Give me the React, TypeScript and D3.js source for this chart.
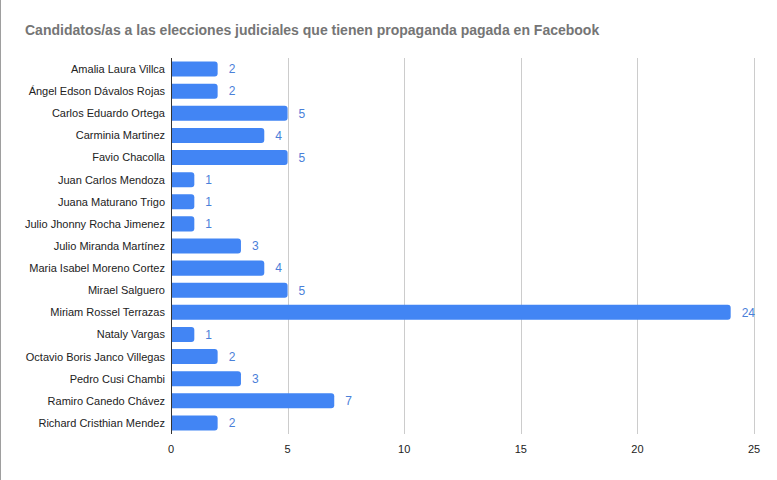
import React from 'react';
import * as d3 from 'd3';

const candidates = [
  'Amalia Laura Villca',
  'Ángel Edson Dávalos Rojas',
  'Carlos Eduardo Ortega',
  'Carminia Martinez',
  'Favio Chacolla',
  'Juan Carlos Mendoza',
  'Juana Maturano Trigo',
  'Julio Jhonny Rocha Jimenez',
  'Julio Miranda Martínez',
  'Maria Isabel Moreno Cortez',
  'Mirael Salguero',
  'Miriam Rossel Terrazas',
  'Nataly Vargas',
  'Octavio Boris Janco Villegas',
  'Pedro Cusi Chambi',
  'Ramiro Canedo Chávez',
  'Richard Cristhian Mendez',
];

const ads = [2, 2, 5, 4, 5, 1, 1, 1, 3, 4, 5, 24, 1, 2, 3, 7, 2];

const xTicks = [0, 5, 10, 15, 20, 25];

const title =
  'Candidatos/as a las elecciones judiciales que tienen propaganda pagada en Facebook';

const W = 777;
const H = 480;
const margin = { top: 58, right: 23, bottom: 46, left: 171 };
const FONT = '"Liberation Sans", Arial, sans-serif';

// right-side rounded bar
function barPath(x0: number, y0: number, w: number, h: number, r: number) {
  const rr = Math.min(r, w / 2, h / 2);
  return `M${x0},${y0}H${x0 + w - rr}Q${x0 + w},${y0} ${x0 + w},${y0 + rr}V${y0 + h - rr}Q${x0 + w},${y0 + h} ${x0 + w - rr},${y0 + h}H${x0}Z`;
}

export default function App() {
  const x = d3.scaleLinear().domain([0, 25]).range([margin.left, W - margin.right]);
  const y = d3
    .scaleBand()
    .domain(candidates)
    .range([margin.top, H - margin.bottom])
    .paddingInner(0.32)
    .paddingOuter(0.16);

  return (
    <svg
      width={W}
      height={H}
      style={{ position: 'absolute', left: 0, top: 0, background: '#fff' }}
      fontFamily={FONT}
    >
      <style>{'body{margin:0}'}</style>
      <rect x={0} y={0} width={W} height={H} fill="#fff" />
      <line x1={0.5} x2={0.5} y1={0} y2={H} stroke="#9e9e9e" />

      <text x={25} y={35} fontSize={14} fontWeight="bold" fill="#757575">
        {title}
      </text>

      {/* grid */}
      {xTicks.slice(1).map((t) => (
        <line
          key={t}
          x1={Math.round(x(t)) + 0.5}
          x2={Math.round(x(t)) + 0.5}
          y1={margin.top}
          y2={H - margin.bottom}
          stroke="#cccccc"
        />
      ))}

      {/* bars */}
      {candidates.map((c, i) => (
        <g key={c}>
          <path
            d={barPath(x(0), y(c)!, x(ads[i]) - x(0), y.bandwidth(), 3)}
            fill="#4285f4"
          />
          <text
            x={x(ads[i]) + 11}
            y={y(c)! + y.bandwidth() / 2}
            dy="0.36em"
            fontSize={12}
            fill="#4a80d9"
          >
            {ads[i]}
          </text>
          <text
            x={margin.left - 6}
            y={y(c)! + y.bandwidth() / 2}
            dy="0.36em"
            fontSize={11}
            textAnchor="end"
            fill="#222222"
          >
            {c}
          </text>
        </g>
      ))}

      {/* axis line */}
      <line
        x1={margin.left + 0.5}
        x2={margin.left + 0.5}
        y1={margin.top}
        y2={H - margin.bottom}
        stroke="#333333"
      />

      {xTicks.map((t) => (
        <text
          key={t}
          x={x(t)}
          y={453}
          fontSize={11}
          textAnchor="middle"
          fill="#222222"
        >
          {t}
        </text>
      ))}
    </svg>
  );
}
